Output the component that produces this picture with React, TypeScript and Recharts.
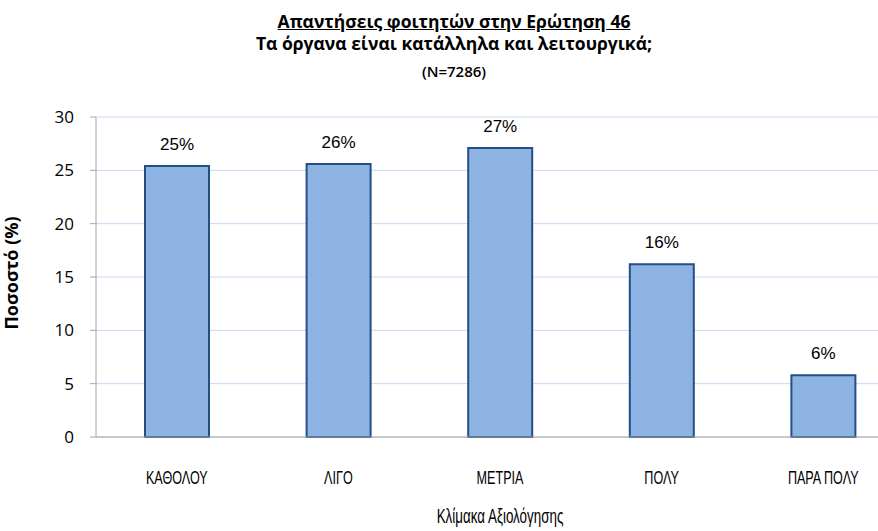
import { BarChart, Bar, XAxis, YAxis, CartesianGrid, LabelList, Label } from "recharts"

const categories = ["ΚΑΘΟΛΟΥ", "ΛΙΓΟ", "ΜΕΤΡΙΑ", "ΠΟΛΥ", "ΠΑΡΑ ΠΟΛΥ"]
const values = [25.4, 25.6, 27.1, 16.2, 5.8]
const yTicks = [0, 5, 10, 15, 20, 25, 30]

const data = categories.map((name, i) => ({ name, value: values[i] }))

const titleFont = "'Open Sans', 'Noto Sans', sans-serif"
const tickFont = "'Liberation Sans', sans-serif"

const CondensedTick = (props: any) => {
  const { x, y, payload } = props
  return (
    <text
      transform={`translate(${x},${y + 39}) scale(0.7,1)`}
      textAnchor="middle"
      fill="#000"
      fontSize={18}
      fontFamily={tickFont}
    >
      {payload.value}
    </text>
  )
}

const CondensedTitle = (props: any) => {
  const { viewBox } = props
  const cx = viewBox.x + viewBox.width / 2
  const cy = viewBox.y + viewBox.height - 8
  return (
    <text transform={`translate(${cx},${cy}) scale(0.67,1)`} textAnchor="middle" fill="#000" fontSize={20} fontFamily={tickFont}>
      Κλίμακα Αξιολόγησης
    </text>
  )
}

const App = () => {
  return (
    <div style={{ position: "absolute", left: 0, top: 0, width: 878, height: 531, overflow: "hidden", background: "#fff" }}>
      <div style={{ position: "absolute", left: 0, width: 908, top: 10, textAlign: "center", fontFamily: titleFont, fontWeight: 700, color: "#000" }}>
        <div style={{ fontSize: 17.5, lineHeight: "22px", textDecoration: "underline" }}>Απαντήσεις φοιτητών στην Ερώτηση 46</div>
        <div style={{ fontSize: 17.5, lineHeight: "22px" }}>Τα όργανα είναι κατάλληλα και λειτουργικά;</div>
        <div style={{ fontSize: 15, fontWeight: 600, lineHeight: "20px", marginTop: 7 }}>(N=7286)</div>
      </div>
      <BarChart
        width={910}
        height={531}
        data={data}
        margin={{ top: 117, right: 6, bottom: 0, left: 0 }}
        barSize={64}
      >
        <CartesianGrid vertical={false} stroke="#c6d9f1" />
        <XAxis
          dataKey="name"
          axisLine={{ stroke: "#a6a6a6" }}
          tickLine={false}
          height={94}
          tick={<CondensedTick />}
        >
          <Label content={<CondensedTitle />} position="insideBottom" />
        </XAxis>
        <YAxis
          domain={[0, 30]}
          ticks={yTicks}
          width={96}
          axisLine={{ stroke: "#a6a6a6" }}
          tickLine={{ stroke: "#a6a6a6" }}
          tickSize={6}
          tickMargin={16}
          tick={{ fill: "#000", fontSize: 17, fontFamily: titleFont }}
        >
          <Label value="Ποσοστό (%)" angle={-90} position="insideLeft" offset={12} dy={-4} style={{ textAnchor: "middle", fill: "#000", fontSize: 18, fontWeight: 700, fontFamily: titleFont }} />
        </YAxis>
        <Bar dataKey="value" fill="#8db3e2" stroke="#254e87" strokeWidth={2} isAnimationActive={false}>
          <LabelList
            dataKey="value"
            position="top"
            offset={16}
            formatter={(v: any) => `${Math.round(Number(v))}%`}
            style={{ fill: "#000", fontSize: 17, fontFamily: "'Liberation Sans', sans-serif" }}
          />
        </Bar>
      </BarChart>
    </div>
  )
}

export default App
